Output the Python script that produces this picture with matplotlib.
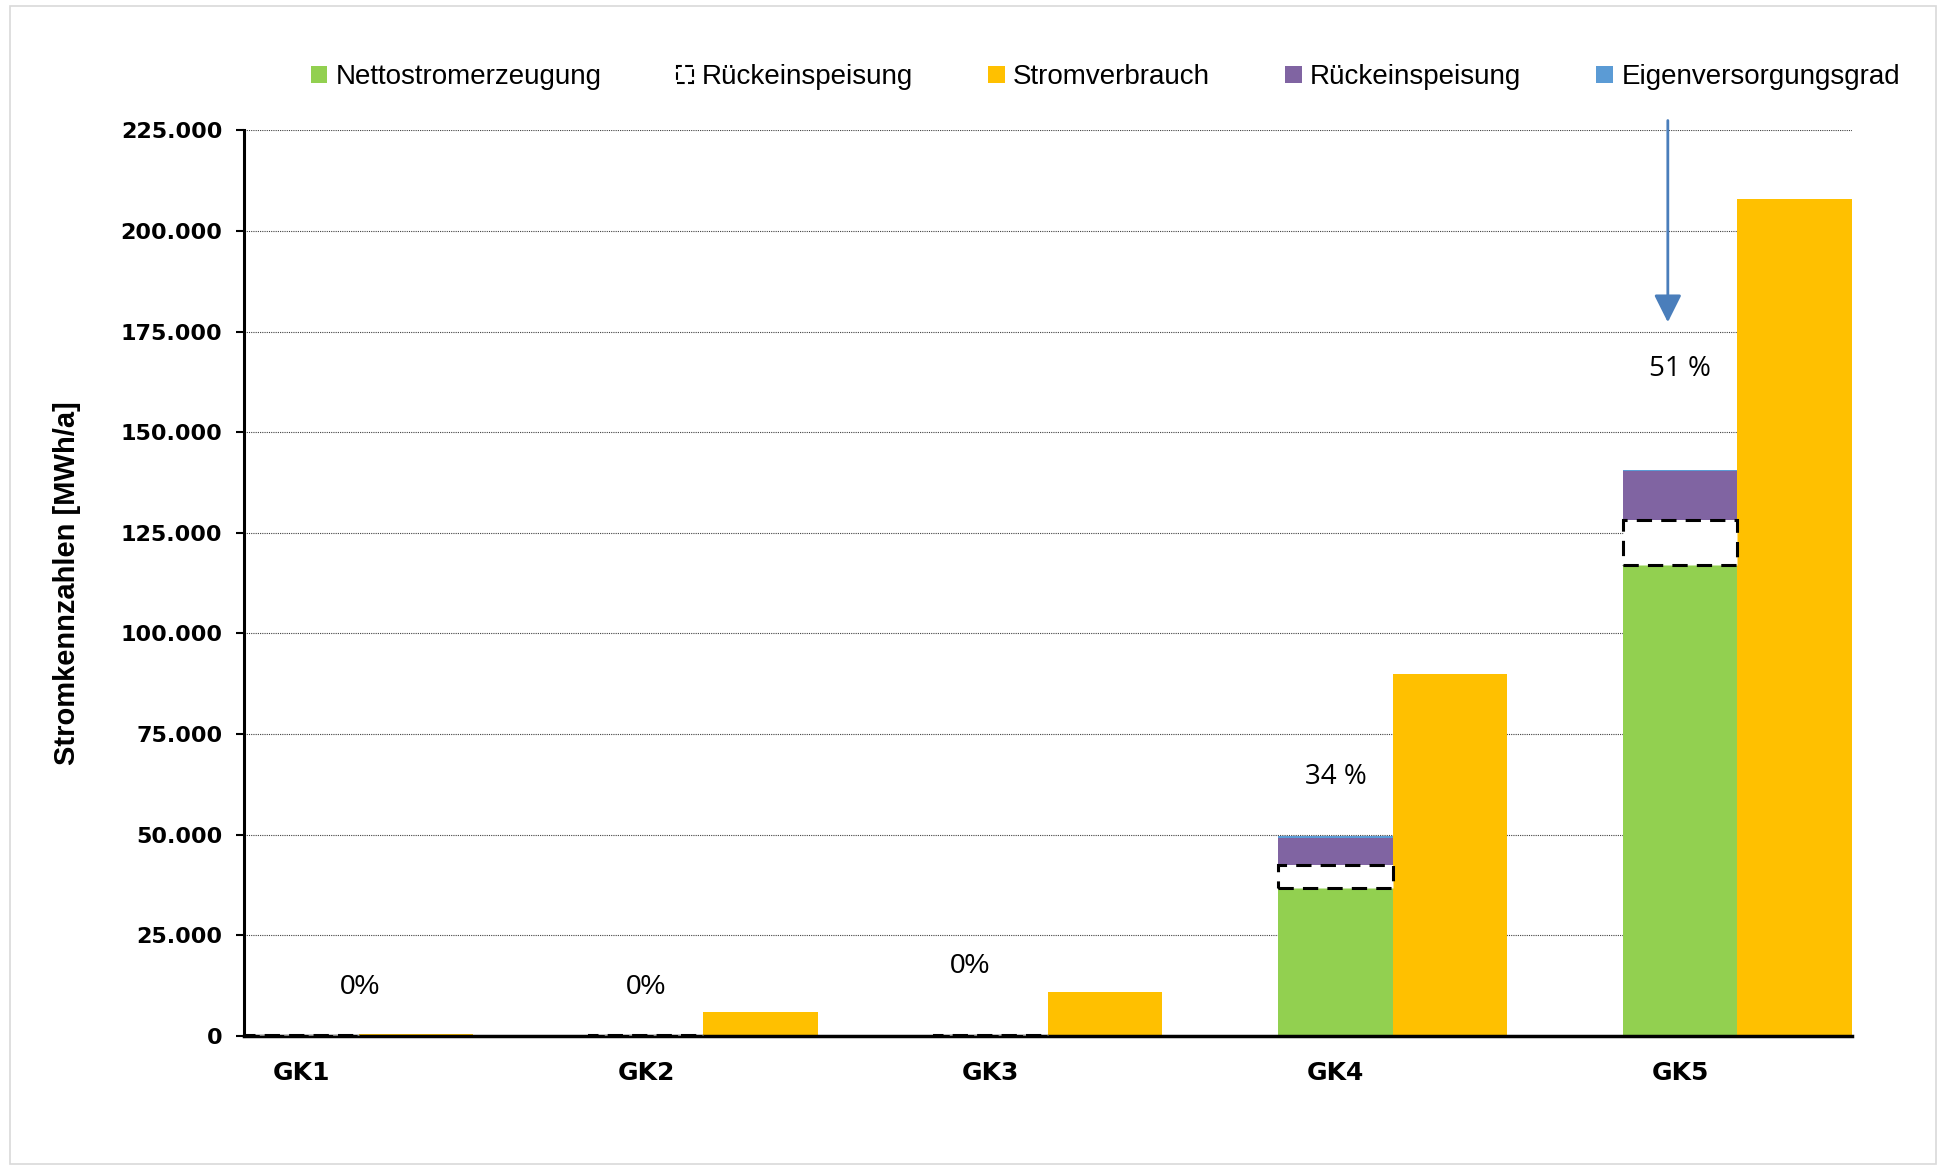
import matplotlib.pyplot as plt
import numpy as np
from matplotlib.patches import Patch, Rectangle
from matplotlib.ticker import FuncFormatter

categories = ['GK1', 'GK2', 'GK3', 'GK4', 'GK5']
netto = [0, 0, 0, 36700, 117100]
rueck_dashed = [150, 150, 150, 5800, 11100]
rueck = [0, 0, 0, 6800, 12100]
eigen = [0, 0, 0, 400, 400]
verbrauch = [500, 6000, 11000, 90000, 208000]
grad_labels = ['0%', '0%', '0%', '34 %', '51 %']
label_x = [0.17, 1.0, 1.94, 3.0, 4.0]
label_y = [12300, 12300, 17300, 64400, 165800]

green = '#92D050'
yellow = '#FFC000'
purple = '#8064A2'
blue = '#5B9BD5'

fig = plt.figure(figsize=(19.46, 11.70), dpi=100)
fig.patches.append(Rectangle((0.005, 0.005), 0.99, 0.99, transform=fig.transFigure,
                             fill=False, edgecolor='#d9d9d9', linewidth=1.2))
ax = fig.add_axes([0.1256, 0.1145, 0.8259, 0.7742])

x = np.arange(len(categories))
w = 0.3315
netto = np.array(netto)
rueck_dashed = np.array(rueck_dashed)
rueck = np.array(rueck)

ax.bar(x, netto, w, color=green, zorder=2)
ax.bar(x, rueck_dashed, w, bottom=netto, facecolor='white', edgecolor='black',
       linestyle=(0, (5, 3)), linewidth=2.2, zorder=3)
ax.bar(x, rueck, w, bottom=netto + rueck_dashed, color=purple, zorder=2)
ax.bar(x, eigen, w, bottom=netto + rueck_dashed + rueck, color=blue, zorder=2)
ax.bar(x + w, verbrauch, w, color=yellow, zorder=2)

for xi, yi, t in zip(label_x, label_y, grad_labels):
    if ' ' in t:
        ax.text(xi, yi, t, ha='center', va='center', fontsize=20, family='Open Sans')
    else:
        ax.text(xi, yi, t, ha='center', va='center', fontsize=20, family='Liberation Sans')

# arrow over GK5
ax.annotate('', xy=(3.964, 176600), xytext=(3.964, 228100),
            arrowprops=dict(arrowstyle='-|>,head_length=0.6,head_width=0.3', color='#4A7EBB',
                            lw=2, mutation_scale=28),
            annotation_clip=False)

ax.set_xlim(-w / 2, 4 + 1.5 * w)
ax.set_ylim(0, 225000)
ax.set_yticks(np.arange(0, 225001, 25000))
ax.yaxis.set_major_formatter(FuncFormatter(lambda v, p: f'{int(v):,}'.replace(',', '.')))
ax.set_xticks(x)
ax.set_xticklabels(categories)
ax.tick_params(axis='x', length=0, pad=18)
ax.tick_params(axis='y', length=6, width=1.5, direction='out', pad=10)
for lab in ax.get_xticklabels():
    lab.set_fontweight('bold')
    lab.set_fontsize(18)
for lab in ax.get_yticklabels():
    lab.set_fontweight('bold')
    lab.set_fontsize(16)

ax.grid(axis='y', linestyle=(0, (1, 1)), color='#404040', linewidth=0.8)
ax.set_axisbelow(True)
for s in ['top', 'right']:
    ax.spines[s].set_visible(False)
ax.spines['left'].set_linewidth(2.2)
ax.spines['bottom'].set_linewidth(2.5)

ax.set_ylabel('Stromkennzahlen [MWh/a]', fontsize=21, fontweight='bold',
              family='Liberation Sans', labelpad=28)

handles = [
    Patch(facecolor=green, edgecolor='none', label='Nettostromerzeugung'),
    Patch(facecolor='white', edgecolor='black', linestyle='--', linewidth=1.5, label='Rückeinspeisung'),
    Patch(facecolor=yellow, edgecolor='none', label='Stromverbrauch'),
    Patch(facecolor=purple, edgecolor='none', label='Rückeinspeisung'),
    Patch(facecolor=blue, edgecolor='none', label='Eigenversorgungsgrad'),
]
fig.legend(handles=handles, loc='center', bbox_to_anchor=(0.568, 0.934), ncol=5,
           frameon=False, prop={'family': 'Liberation Sans', 'size': 20},
           handlelength=0.6, handleheight=0.6, handletextpad=0.3, columnspacing=2.7)

fig.savefig('out.png', dpi=100)
